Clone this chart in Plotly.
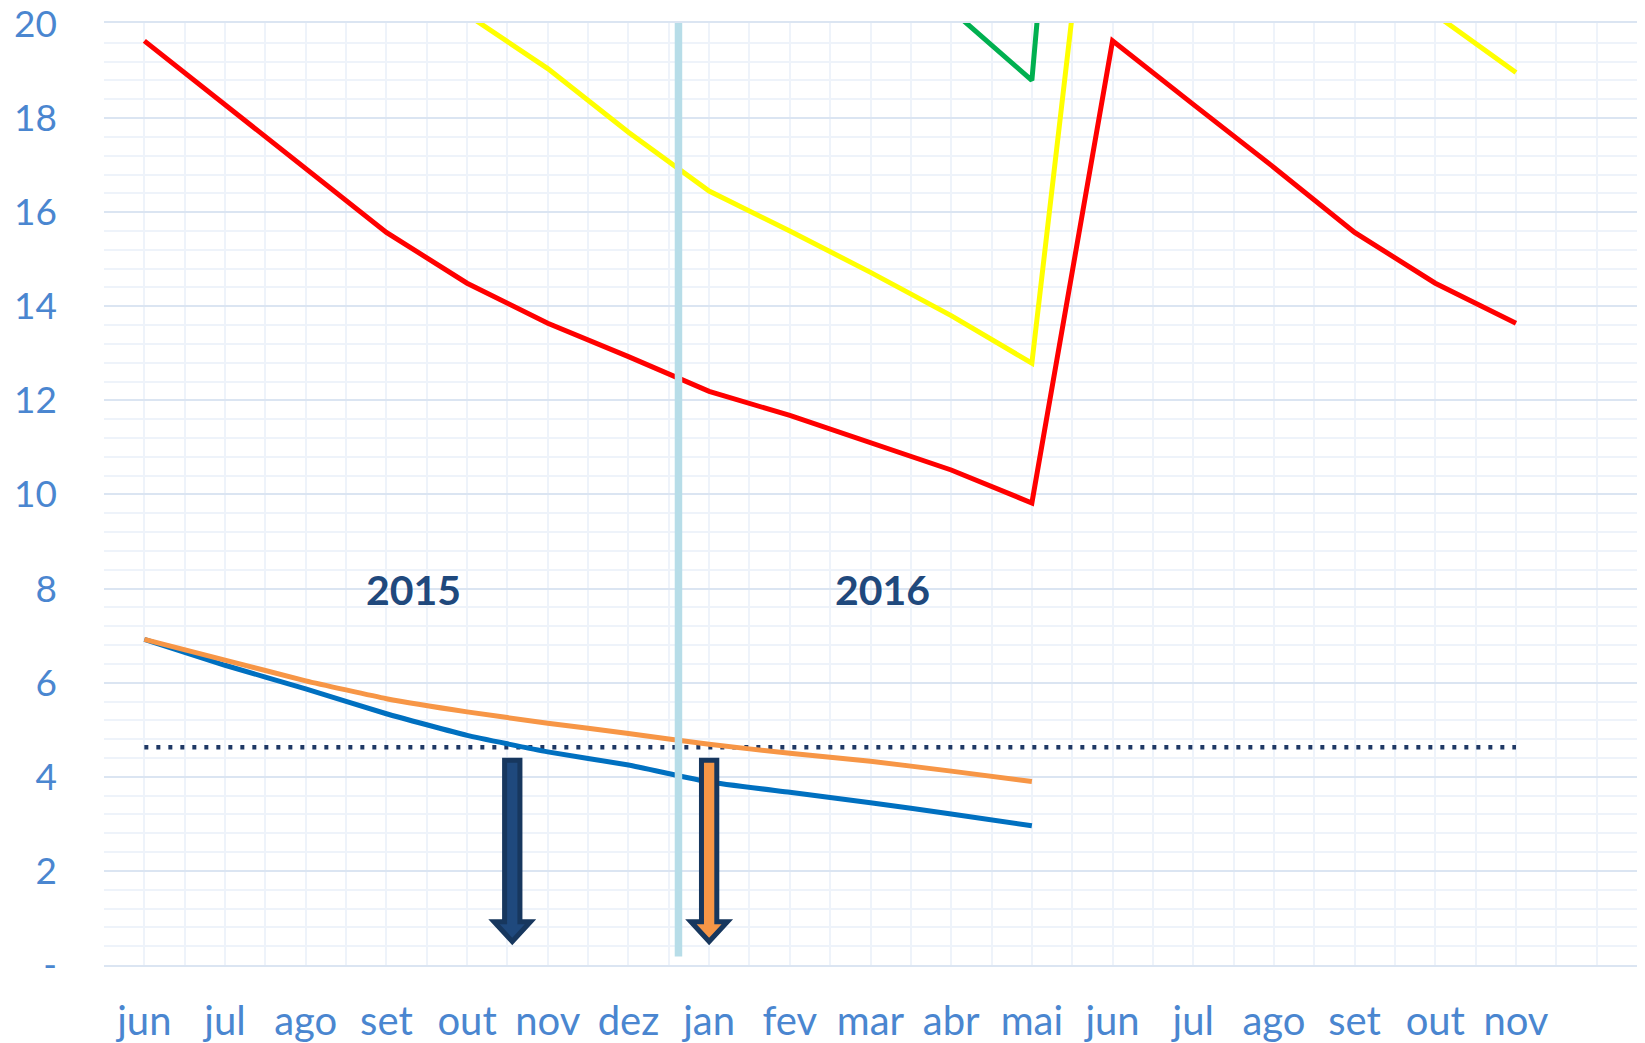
import plotly.graph_objects as go

# ---------------- data ----------------
months = ["jun", "jul", "ago", "set", "out", "nov", "dez", "jan", "fev", "mar",
          "abr", "mai", "jun", "jul", "ago", "set", "out", "nov"]

red_vals = [19.64, 18.29, 16.95, 15.57, 14.49, 13.64, 12.93, 12.19, 11.68, 11.11,
            10.52, 9.82, 19.64, 18.29, 16.95, 15.57, 14.49, 13.64]
yellow_vals = [27.6, 25.6, 23.7, 21.9, 20.2, 19.05, 17.7, 16.45, 15.6, 14.72,
               13.8, 12.79, 27.6, 25.6, 23.7, 21.9, 20.2, 18.97]
green_vals = [38.2, 35.6, 33.0, 30.5, 28.4, 26.6, 25.1, 23.7, 22.6, 21.5,
              20.3, 18.8, 38.2, 35.6, 33.0, 30.5, 28.4, 26.6]
blue_vals = [6.92, 6.37, 5.87, 5.34, 4.88, 4.53, 4.25, 3.89, 3.67, 3.45, 3.21, 2.96]
orange_vals = [6.92, 6.48, 6.04, 5.66, 5.38, 5.14, 4.92, 4.69, 4.50, 4.33, 4.12, 3.90]
threshold = 4.63

y_tickvals = [0, 2, 4, 6, 8, 10, 12, 14, 16, 18, 20]
y_ticktext = ["-", "2", "4", "6", "8", "10", "12", "14", "16", "18", "20"]

year_labels = ["2015", "2016"]
year_label_x = [3.34, 9.15]
year_label_y = 7.97

divider_x = 6.62
divider_y = (0.18, 20.08)

# arrows: (center x, top y, head-base y, tip y, fill colour)
arrow_specs = [(4.56, 4.35, 0.92, 0.50, "#1f497d"),
               (7.00, 4.35, 0.92, 0.50, "#f79646")]
arrow_shaft_half = 0.095
arrow_head_half = 0.226

# ---------------- styles ----------------
label_color = "#4a86d0"
font_family = "Lato, 'Open Sans', sans-serif"
major_grid = "#dbe5f2"
minor_grid = "#eef3fa"
line_w = 5

x_all = list(range(len(months)))

fig = go.Figure()

fig.add_trace(go.Scatter(x=x_all, y=[threshold] * len(months), mode="lines",
                         line=dict(color="#1f3864", width=4.5, dash="4px,8px"),
                         hoverinfo="skip"))
fig.add_trace(go.Scatter(x=x_all[:len(blue_vals)], y=blue_vals, mode="lines",
                         line=dict(color="#0070c0", width=line_w, shape="spline", smoothing=0.4)))
fig.add_trace(go.Scatter(x=x_all[:len(orange_vals)], y=orange_vals, mode="lines",
                         line=dict(color="#f79646", width=line_w, shape="spline", smoothing=0.4)))
fig.add_trace(go.Scatter(x=x_all, y=green_vals, mode="lines",
                         line=dict(color="#00b050", width=line_w)))
fig.add_trace(go.Scatter(x=x_all, y=yellow_vals, mode="lines",
                         line=dict(color="#ffff00", width=line_w)))
fig.add_trace(go.Scatter(x=x_all, y=red_vals, mode="lines",
                         line=dict(color="#ff0000", width=line_w)))

shapes = [dict(type="line", xref="x", yref="y", x0=divider_x, x1=divider_x,
               y0=divider_y[0], y1=divider_y[1],
               line=dict(color="#b7dde8", width=7.5), layer="above")]

for xc, ytop, ybase, ytip, fill in arrow_specs:
    s, h = arrow_shaft_half, arrow_head_half
    path = (f"M {xc - s},{ytop} L {xc + s},{ytop} L {xc + s},{ybase} "
            f"L {xc + h},{ybase} L {xc},{ytip} L {xc - h},{ybase} "
            f"L {xc - s},{ybase} Z")
    shapes.append(dict(type="path", xref="x", yref="y", path=path,
                       fillcolor=fill, line=dict(color="#17375e", width=5),
                       layer="above"))

annotations = [dict(x=xv, y=year_label_y, xref="x", yref="y", text=f"<b>{t}</b>",
                    showarrow=False,
                    font=dict(family=font_family, size=41, color="#1f497d"))
               for t, xv in zip(year_labels, year_label_x)]

fig.update_layout(
    width=1645, height=1043,
    margin=dict(l=104, r=8, t=23, b=78, autoexpand=False),
    paper_bgcolor="white", plot_bgcolor="white",
    showlegend=False,
    shapes=shapes,
    annotations=annotations,
    xaxis=dict(
        range=[-0.5, 18.5], tickmode="array", tickvals=x_all, ticktext=months,
        showgrid=True, gridcolor=minor_grid, gridwidth=1.5,
        minor=dict(tick0=0, dtick=0.5, showgrid=True, gridcolor=minor_grid, gridwidth=1.5),
        zeroline=False, showline=True, mirror=True, linecolor=major_grid, linewidth=2,
        ticks="", ticklabelstandoff=20, automargin=False, ticklabeloverflow="allow",
        tickfont=dict(family=font_family, size=40, color=label_color),
    ),
    yaxis=dict(
        range=[0, 20.02], tickmode="array", tickvals=y_tickvals, ticktext=y_ticktext,
        showgrid=True, gridcolor=major_grid, gridwidth=2,
        minor=dict(tick0=0, dtick=0.4, showgrid=True, gridcolor=minor_grid, gridwidth=1.5),
        zeroline=False, showline=False, automargin=False, ticklabeloverflow="allow",
        ticks="", ticklabelstandoff=46,
        tickfont=dict(family=font_family, size=37, color=label_color),
    ),
)

fig.write_html(
    "out.html",
    config={"displayModeBar": False},
    post_script="document.body.style.margin='0';document.body.style.overflow='hidden';",
)
